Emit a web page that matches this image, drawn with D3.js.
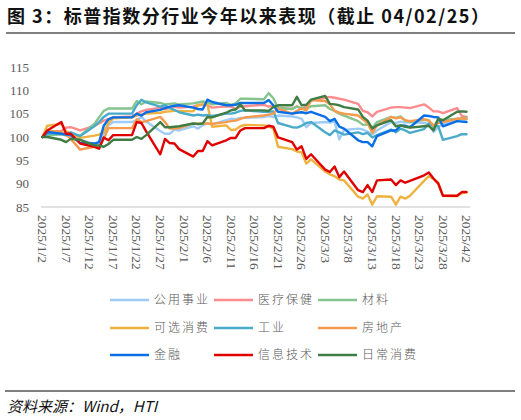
<!DOCTYPE html>
<html><head><meta charset="utf-8">
<script src="https://cdn.jsdelivr.net/npm/d3@7"></script>
<style>body{margin:0;background:#fff} svg{display:block}</style>
</head><body>
<svg id="c" width="521" height="420"></svg>
<script>
const dates = ["2025-01-02","2025-01-03","2025-01-06","2025-01-07","2025-01-08","2025-01-10","2025-01-13","2025-01-14","2025-01-15","2025-01-16","2025-01-17","2025-01-21","2025-01-22","2025-01-23","2025-01-24","2025-01-27","2025-01-28","2025-01-29","2025-01-30","2025-01-31",
"2025-02-03","2025-02-04","2025-02-05","2025-02-06","2025-02-07","2025-02-10","2025-02-11","2025-02-12","2025-02-13","2025-02-14","2025-02-18","2025-02-19","2025-02-20","2025-02-21","2025-02-24","2025-02-25","2025-02-26","2025-02-27","2025-02-28",
"2025-03-03","2025-03-04","2025-03-05","2025-03-06","2025-03-07","2025-03-10","2025-03-11","2025-03-12","2025-03-13","2025-03-14","2025-03-17","2025-03-18","2025-03-19","2025-03-20","2025-03-21","2025-03-24","2025-03-25","2025-03-26","2025-03-27","2025-03-28","2025-03-31",
"2025-04-01","2025-04-02"];

const seriesNames = ["公用事业","医疗保健","材料","可选消费","工业","房地产","金融","信息技术","日常消费"];

const utilities = [100,100.5,100.6,100.3,100.0,99.4,98.5,98.7,100.8,102.5,103.2,103.2,103.6,104.3,103.3,101.3,100.7,100.7,101.6,101.4,
102.3,101.8,102.5,102.9,102.7,103.6,103.9,103.8,104.1,104.1,104.3,104.5,104.3,104.6,104.4,104.2,103.9,102.1,103.0,
103.2,103.1,103.3,99.5,101.5,101.8,101.6,101.1,100.6,101.4,103.2,103.0,103.3,103.1,103.2,103.0,102.8,101.1,102.1,102.8,103.4,
103.7,103.8];
const healthcare = [100,101.0,101.3,102.0,102.1,101.4,102.4,102.9,103.5,103.8,104.2,104.4,105.0,105.5,105.8,106.3,106.0,106.2,106.5,106.3,
106.5,106.8,106.9,106.8,106.3,106.6,106.5,106.0,106.5,106.6,106.9,106.5,106.7,106.3,106.0,106.6,106.0,106.6,107.8,
108.4,108.6,108.4,108.2,108.0,107.1,105.6,105.3,104.4,105.4,106.3,106.4,106.4,106.3,106.2,107.0,106.3,105.5,105.5,105.1,106.2,
104.5,104.3];
const materials = [100,100.3,100.6,100.5,100.4,100.3,102.8,104.2,105.6,106.1,106.1,106.1,107.7,107.0,107.6,107.3,107.0,107.1,107.2,107.0,
107.2,107.4,107.6,107.4,107.0,107.3,106.9,107.2,108.2,108.2,108.1,109.4,108.3,106.2,106.0,106.5,106.2,106.0,106.6,
106.8,106.0,105.6,105.0,104.6,103.4,102.6,102.7,102.0,103.2,104.3,104.1,104.4,103.5,103.2,103.7,103.6,102.0,103.9,103.6,103.9,
104.0,104.2];
const consumerDisc = [100,102.4,102.8,101.2,100.8,99.8,100.3,100.5,101.0,103.0,104.0,104.2,104.6,104.8,105.0,105.2,105.4,105.5,105.6,105.6,
105.5,106.8,107.0,107.0,102.2,102.5,101.5,101.6,102.3,102.6,102.5,102.3,101.8,97.9,97.4,96.9,96.7,94.3,95.2,
92.6,92.0,91.6,90.9,90.7,87.2,86.8,87.7,85.5,87.3,87.2,85.5,87.2,86.8,87.4,90.6,91.6,91.0,90.2,87.4,87.3,
88.0,88.1];
const industrials = [100,100.7,100.8,100.5,101.0,100.2,102.3,103.2,104.3,105.0,105.0,105.0,106.8,108.0,107.4,106.5,106.8,106.2,105.8,105.3,
104.6,104.8,104.6,104.7,104.5,105.0,105.0,105.2,105.6,105.7,105.4,105.4,105.5,103.0,102.1,102.0,102.4,103.0,103.2,
101.0,100.4,101.4,101.0,100.5,101.0,100.6,100.9,99.9,100.4,101.6,101.0,101.8,101.4,100.9,101.7,102.9,102.5,102.3,99.4,100.2,
100.6,100.6];
const realEstate = [100,101.4,101.1,100.5,99.6,97.3,97.9,97.9,99.6,101.9,101.9,101.9,103.8,103.2,103.4,104.3,103.2,101.8,101.8,101.9,
102.9,102.8,102.9,102.9,102.8,103.2,103.4,103.5,103.9,104.2,104.6,104.8,105.0,106.1,105.0,105.6,106.1,105.7,107.9,
107.7,107.0,105.6,105.2,105.0,104.6,103.8,103.0,100.9,102.5,104.3,104.0,104.2,103.6,103.4,103.8,103.5,102.5,103.0,103.2,103.9,
104.0,103.9];
const financials = [100,101.1,100.7,100.5,100.4,98.7,98.6,98.9,102.4,103.8,104.2,104.2,105.0,104.6,105.3,105.8,106.2,106.5,106.7,106.8,
106.3,106.0,105.9,108.0,107.5,106.8,106.8,106.9,107.3,107.3,107.3,107.9,106.8,105.4,105.0,105.2,105.3,105.1,105.4,
104.3,103.4,103.9,102.2,101.8,99.3,98.9,98.9,98.0,100.2,101.4,101.4,102.5,102.4,102.1,104.6,104.5,104.3,104.2,102.3,103.4,
103.3,103.2];
const infoTech = [100,101.4,103.2,100.7,100.7,98.6,97.9,97.5,99.9,99.3,100.4,100.4,103.2,103.0,101.2,96.3,99.6,98.7,98.6,97.4,
95.8,97.0,97.0,99.1,98.2,99.3,99.8,99.8,101.4,101.9,101.9,102.4,102.2,99.9,98.9,97.3,98.0,95.3,96.3,
93.0,92.5,93.7,91.4,92.6,88.6,88.2,89.7,88.2,90.7,90.9,89.7,90.7,90.2,90.6,91.8,92.4,91.1,90.0,87.4,87.4,
88.2,88.2];
const staples = [100,100.0,99.4,98.9,99.6,99.4,98.2,98.2,97.9,98.5,99.4,99.4,100.0,99.6,100.4,103.2,102.1,102.1,102.2,102.3,
102.9,102.8,102.9,104.3,104.2,105.2,105.7,105.9,107.0,105.7,105.7,105.6,106.4,106.8,106.8,108.6,106.8,106.9,108.0,
108.8,107.1,107.0,106.8,106.4,105.9,104.3,103.5,101.8,102.5,103.6,102.3,102.5,102.2,102.0,102.3,102.4,101.4,103.9,103.6,105.4,
105.5,105.4];

const seriesValues = [utilities, healthcare, materials, consumerDisc, industrials, realEstate, financials, infoTech, staples];
const yTicks = [85,90,95,100,105,110,115];
const xTickLabels = ["2025/1/2","2025/1/7","2025/1/12","2025/1/17","2025/1/22","2025/1/27","2025/2/1","2025/2/6","2025/2/11","2025/2/16","2025/2/21","2025/2/26","2025/3/3","2025/3/8","2025/3/13","2025/3/18","2025/3/23","2025/3/28","2025/4/2"];

const colors = ["#9fcbf7","#ff8c8c","#86c48e","#efb23f","#4aabc8","#f79a4e","#0a6fe6","#e00000","#3f7d44"];

const svg = d3.select("#c");
const parse = d3.timeParse("%Y-%m-%d");
const parseTick = d3.timeParse("%Y/%m/%d");
const dts = dates.map(parse);

const x = d3.scaleTime().domain([dts[0], dts[dts.length-1]]).range([42.5, 466.5]);
const y = d3.scaleLinear().domain([85,115]).range([207, 67]);

// title
svg.append("text").attr("x",7).attr("y",23)
  .attr("font-family","'Noto Sans CJK SC','Noto Sans',sans-serif").attr("font-weight","bold")
  .attr("font-size",18).attr("letter-spacing",1.5).attr("fill","#111")
  .text("图 3：标普指数分行业今年以来表现（截止 04/02/25）");
svg.append("line").attr("x1",6).attr("x2",515).attr("y1",33).attr("y2",33)
  .attr("stroke","#808080").attr("stroke-width",2);

// y axis labels
const yAxis = d3.axisLeft(y).tickValues(yTicks).tickSize(0).tickPadding(0).tickFormat(d3.format("d"));
const ya = svg.append("g").attr("transform","translate(29,0)").call(yAxis);
ya.select(".domain").remove();
ya.selectAll("text").attr("font-family","'Liberation Serif','Times New Roman',serif")
  .attr("font-size",13).attr("fill","#595959");

// x axis
svg.append("line").attr("x1",41).attr("x2",470).attr("y1",y(85)).attr("y2",y(85))
  .attr("stroke","#d9d9d9").attr("stroke-width",1.5);
const xAxis = d3.axisBottom(x).tickValues(xTickLabels.map(parseTick)).tickSize(0).tickFormat((d,i)=>xTickLabels[i]);
const xa = svg.append("g").attr("transform",`translate(0,${y(85)})`).call(xAxis);
xa.select(".domain").remove();
xa.selectAll("text")
  .attr("font-family","'Liberation Serif','Times New Roman',serif")
  .attr("font-size",13.5).attr("fill","#595959")
  .attr("text-anchor","start").attr("dy","0.35em")
  .attr("transform","translate(0,8) rotate(90)")
  .attr("x",0).attr("y",0);

// lines
const line = d3.line().x((d,i)=>x(dts[i])).y(d=>y(d));
const g = svg.append("g");
seriesValues.forEach((vals,k)=>{
  g.append("path").datum(vals).attr("d",line)
   .attr("fill","none").attr("stroke",colors[k]).attr("stroke-width",2.4)
   .attr("stroke-linejoin","round").attr("stroke-linecap","round");
});

// legend
const legX = [110,214,318], legY = [300,328,355];
seriesNames.forEach((n,k)=>{
  const cx = legX[k%3], cy = legY[Math.floor(k/3)];
  svg.append("line").attr("x1",cx).attr("x2",cx+39).attr("y1",cy).attr("y2",cy)
    .attr("stroke",colors[k]).attr("stroke-width",2.4);
  svg.append("text").attr("x",cx+44).attr("y",cy).attr("dy","0.36em")
    .attr("font-family","'Noto Sans CJK SC',sans-serif").attr("font-weight",300)
    .attr("font-size",12).attr("letter-spacing",2).attr("fill","#595959").text(n);
});

// footer
svg.append("line").attr("x1",5).attr("x2",515).attr("y1",391).attr("y2",391)
  .attr("stroke","#808080").attr("stroke-width",2);
svg.append("text").attr("x",7).attr("y",412)
  .attr("font-family","'Noto Sans CJK SC','Noto Sans',sans-serif").attr("font-style","italic")
  .attr("font-size",15).attr("fill","#111").text("资料来源：Wind，HTI");
</script>
</body></html>
